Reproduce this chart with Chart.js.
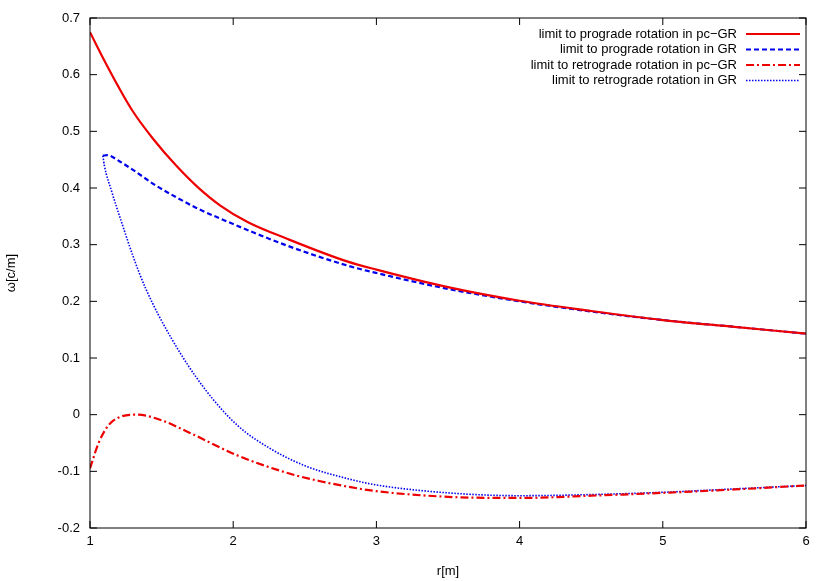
<!DOCTYPE html>
<html>
<head>
<meta charset="utf-8">
<script src="https://cdn.jsdelivr.net/npm/chart.js@4/dist/chart.umd.min.js"></script>
<style>
  body { margin: 0; background: #fff; }
  #wrap { width: 830px; height: 581px; }
</style>
</head>
<body>
<div id="wrap"><canvas id="c"></canvas></div>
<script>
// values: r[m] and omega[c/m]
const proPcR = [1.0, 1.1, 1.2, 1.3, 1.44, 1.6, 1.75, 1.91, 2.1, 2.38, 2.8, 3.0, 3.5, 4.0, 4.5, 5.0, 5.5, 6.0];
const proPcW = [0.675, 0.625, 0.578, 0.535, 0.487, 0.44, 0.402, 0.369, 0.34, 0.31, 0.27, 0.256, 0.225, 0.201, 0.183, 0.167, 0.155, 0.143];

const proGrR = [1.09, 1.12, 1.2, 1.3, 1.45, 1.6, 1.75, 1.91, 2.38, 2.8, 3.0, 3.5, 4.0, 4.5, 5.0, 5.5, 6.0];
const proGrW = [0.457, 0.458, 0.448, 0.432, 0.406, 0.384, 0.364, 0.346, 0.298, 0.263, 0.25, 0.222, 0.2, 0.182, 0.167, 0.155, 0.143];

const retPcR = [1.0, 1.06, 1.125, 1.2, 1.33, 1.5, 1.68, 2.03, 2.38, 2.6, 2.8, 3.0, 3.5, 4.0, 4.5, 5.0, 5.5, 6.0];
const retPcW = [-0.095, -0.05, -0.02, -0.005, 0.0, -0.01, -0.03, -0.072, -0.103, -0.117, -0.127, -0.135, -0.145, -0.147, -0.143, -0.138, -0.132, -0.125];

const retGrR = [1.09, 1.1, 1.15, 1.22, 1.3, 1.39, 1.57, 1.8, 2.03, 2.26, 2.5, 2.8, 3.0, 3.5, 4.0, 4.5, 5.0, 5.5, 6.0];
const retGrW = [0.457, 0.44, 0.395, 0.34, 0.28, 0.222, 0.134, 0.046, -0.019, -0.06, -0.09, -0.113, -0.124, -0.138, -0.143, -0.141, -0.137, -0.131, -0.125];

const labels = [
  'limit to prograde rotation in pc\u2212GR',
  'limit to prograde rotation in GR',
  'limit to retrograde rotation in pc\u2212GR',
  'limit to retrograde rotation in GR'
];

function pts(xs, ys) { return xs.map((x, i) => ({ x: x, y: ys[i] })); }

const styles = [
  { color: '#ee0000', dash: [], width: 2.2 },
  { color: '#0000ee', dash: [5, 3], width: 2.2 },
  { color: '#ee0000', dash: [8, 3, 2, 3], width: 2.2 },
  { color: '#0000ee', dash: [1.5, 1.5], width: 1.6 }
];
const series = [pts(proPcR, proPcW), pts(proGrR, proGrW), pts(retPcR, retPcW), pts(retGrR, retGrW)];

const datasets = series.map((d, i) => ({
  label: labels[i],
  data: d,
  borderColor: styles[i].color,
  borderDash: styles[i].dash,
  borderWidth: styles[i].width,
  pointRadius: 0,
  tension: 0.4,
  cubicInterpolationMode: 'monotone',
  fill: false
}));

// gnuplot-like frame, inward ticks and legend inside the plot
const frame = {
  id: 'frame',
  afterDatasetsDraw(chart) {
    const ctx = chart.ctx, a = chart.chartArea;
    const xs = chart.scales.x, ys = chart.scales.y;
    ctx.save();
    ctx.strokeStyle = '#000';
    ctx.lineWidth = 1;
    ctx.strokeRect(a.left, a.top, a.right - a.left, a.bottom - a.top);
    ctx.beginPath();
    xs.ticks.forEach(t => {
      const p = xs.getPixelForValue(t.value);
      ctx.moveTo(p, a.bottom); ctx.lineTo(p, a.bottom - 7);
      ctx.moveTo(p, a.top); ctx.lineTo(p, a.top + 7);
    });
    ys.ticks.forEach(t => {
      const p = ys.getPixelForValue(t.value);
      ctx.moveTo(a.left, p); ctx.lineTo(a.left + 7, p);
      ctx.moveTo(a.right, p); ctx.lineTo(a.right - 7, p);
    });
    ctx.stroke();
    ctx.font = '13px "Liberation Sans", Arial, sans-serif';
    ctx.textAlign = 'right';
    ctx.textBaseline = 'middle';
    chart.data.datasets.forEach((ds, i) => {
      const y = 34 + i * 15.5;
      ctx.fillStyle = '#000';
      ctx.fillText(ds.label, 737, y);
      ctx.strokeStyle = ds.borderColor;
      ctx.lineWidth = ds.borderWidth;
      ctx.setLineDash(ds.borderDash);
      ctx.beginPath();
      ctx.moveTo(746, y); ctx.lineTo(800, y);
      ctx.stroke();
    });
    ctx.restore();
  }
};

const font = { family: '"Liberation Sans", Arial, sans-serif', size: 13 };

new Chart(document.getElementById('c'), {
  type: 'line',
  data: { datasets: datasets },
  options: {
    responsive: true,
    maintainAspectRatio: false,
    animation: false,
    layout: { padding: { top: 18, right: 24, left: 4, bottom: 0 } },
    plugins: { legend: { display: false }, tooltip: { enabled: false } },
    scales: {
      x: {
        type: 'linear', min: 1, max: 6,
        ticks: { stepSize: 1, color: '#000', font: font, padding: 6 },
        grid: { drawOnChartArea: false, drawTicks: false },
        border: { display: false },
        title: { display: true, text: 'r[m]', color: '#000', font: font, padding: 2 },
        afterFit(s) { s.height = 53; }
      },
      y: {
        type: 'linear', min: -0.2, max: 0.7,
        ticks: { stepSize: 0.1, color: '#000', font: font, padding: 10,
                 callback: v => { const r = Math.round(v * 10) / 10; return r === 0 ? '0' : String(r); } },
        grid: { drawOnChartArea: false, drawTicks: false },
        border: { display: false },
        title: { display: true, text: '\u03c9[c/m]', color: '#000', font: font, padding: 0 },
        afterFit(s) { s.width = 86; }
      }
    }
  },
  plugins: [frame]
});
</script>
</body>
</html>
